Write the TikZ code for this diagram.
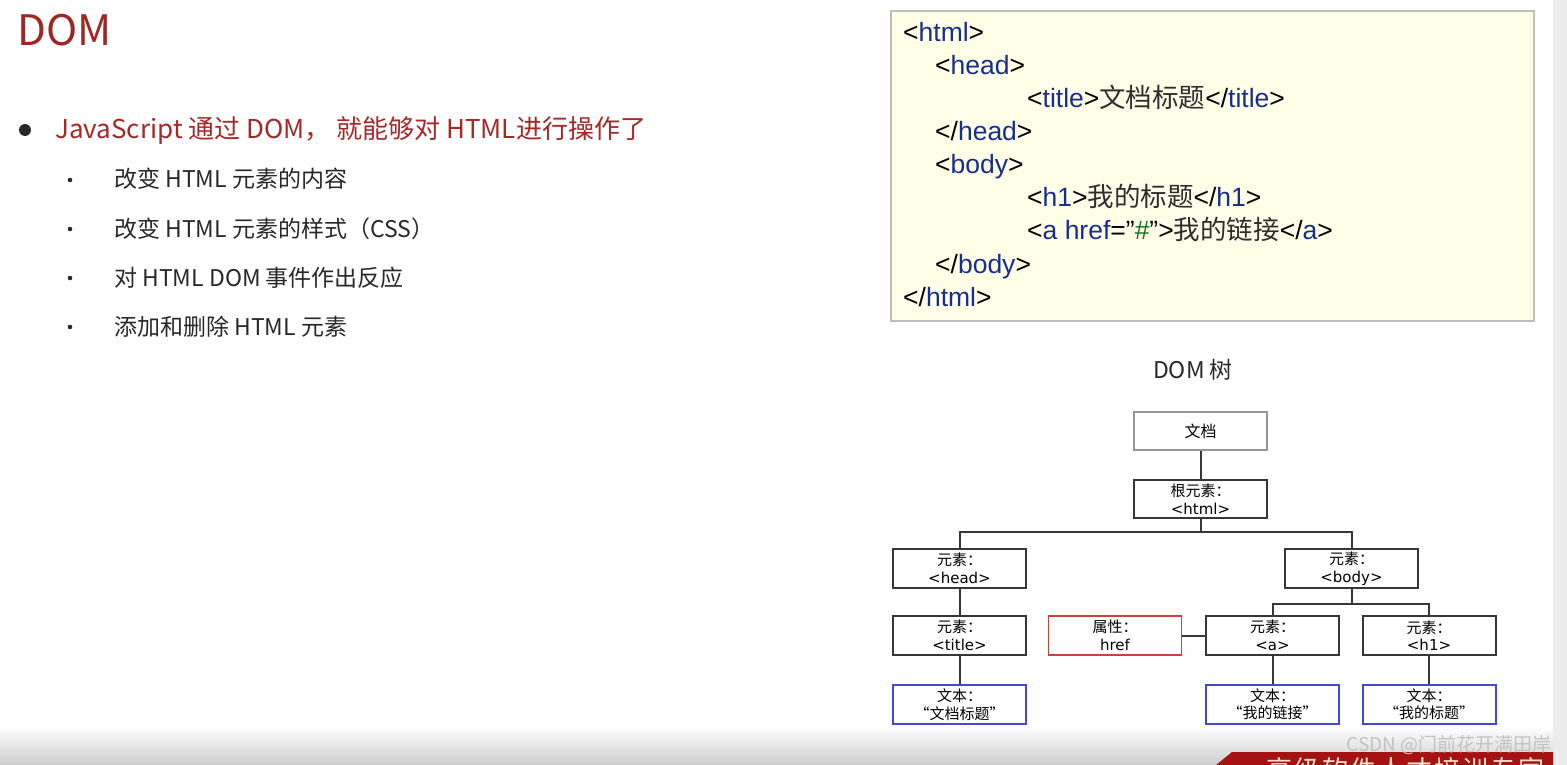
\documentclass[tikz,border=0pt]{standalone}
\usepackage{fontspec}
\setmainfont{Liberation Sans}
\newfontfamily\cjk{Noto Sans CJK SC}
\newfontfamily\dv{DejaVu Sans}
\usetikzlibrary{shadings}
\definecolor{titlered}{RGB}{160,38,38}
\definecolor{bulletred}{RGB}{168,40,40}
\definecolor{slidetext}{RGB}{40,40,40}
\definecolor{codefill}{RGB}{255,255,232}
\definecolor{codeborder}{RGB}{190,190,190}
\definecolor{tagblue}{RGB}{25,45,140}
\definecolor{codegreen}{RGB}{20,110,30}
\definecolor{codetext}{RGB}{45,45,45}
\definecolor{boxdark}{RGB}{55,55,55}
\definecolor{boxgray}{RGB}{150,150,150}
\definecolor{boxred}{RGB}{215,60,60}
\definecolor{boxblue}{RGB}{70,70,215}
\definecolor{stripgray}{RGB}{236,236,236}
\definecolor{bannerred}{RGB}{165,18,18}
\definecolor{bannertext}{RGB}{245,225,205}
\definecolor{wmgray}{RGB}{195,195,195}
\newcommand\tg[1]{\textcolor{tagblue}{#1}}
\newcommand\fsz[1]{\fontsize{#1}{#1}\selectfont}
\tikzset{
  slidetitle/.style={anchor=base west, inner sep=0pt, text=titlered, font=\cjk\fsz{42}},
  mainbullet/.style={anchor=base west, inner sep=0pt, text=bulletred, font=\cjk\fsz{26}},
  subbullet/.style={anchor=base west, inner sep=0pt, text=slidetext, font=\cjk\fsz{23}},
  codeline/.style={anchor=base west, inner sep=0pt, text=black, font=\fsz{26.5}},
  tbox/.style={draw=boxdark, line width=2pt, minimum width=133pt, minimum height=38pt,
    inner sep=0pt, align=center, text=black, font=\dv\fontsize{15}{17.5}\selectfont},
  conn/.style={draw=boxdark, line width=2pt},
}
\begin{document}
\begin{tikzpicture}[x=1pt,y=-1pt]
\useasboundingbox (0,0) rectangle (1567,765);
\fill[white] (0,0) rectangle (1567,765);
% bottom gradient and right strip
\shade[top color=white, bottom color={rgb,255:red,205;green,205;blue,205}] (0,727) rectangle (1567,765);
\fill[stripgray] (1553,0) rectangle (1567,765);

% left slide text
\node[slidetitle] (title) at (17,46) {DOM};
\fill[slidetext] (25,130) circle (6pt);
\node[mainbullet] (b0) at (55,139) {JavaScript 通过 DOM， 就能够对 HTML进行操作了};
\foreach \yy/\txt [count=\i] in {180/改变 HTML 元素的内容, 229/改变 HTML 元素的样式（CSS）, 278/对 HTML DOM 事件作出反应, 327/添加和删除 HTML 元素}{
  \fill[slidetext] (70,\yy) circle (2.3pt);
  \node[subbullet] (s\i) at (114,\yy+8) {\txt};
}

% code box
\draw[fill=codefill, draw=codeborder, line width=1.2pt] (891,11) rectangle (1534,321);
\node[codeline] (c1) at (903,42) {<\tg{html}>};
\node[codeline] (c2) at (935,75) {<\tg{head}>};
\node[codeline] (c3) at (1027,108) {<\tg{title}>\textcolor{codetext}{\cjk 文档标题}</\tg{title}>};
\node[codeline] (c4) at (935,141) {</\tg{head}>};
\node[codeline] (c5) at (935,174) {<\tg{body}>};
\node[codeline] (c6) at (1027,207) {<\tg{h1}>\textcolor{codetext}{\cjk 我的标题}</\tg{h1}>};
\node[codeline] (c7) at (1027,240) {<\tg{a href}="\textcolor{codegreen}{\#}">\textcolor{codetext}{\cjk 我的链接}</\tg{a}>};
\node[codeline] (c8) at (935,273) {</\tg{body}>};
\node[codeline] (c9) at (903,306) {</\tg{html}>};

% DOM tree
\node[anchor=base, inner sep=0pt, text=slidetext, font=\cjk\fsz{23}] (treetitle) at (1193,378) {DOM 树};

\node[tbox, draw=boxgray] (doc) at (1200.5,431) {\cjk\fsz{16}文档};
\node[tbox] (html) at (1200.5,499) {{\cjk 根元素：}\\<html>};
\node[tbox, minimum height=39pt] (head) at (959.5,568.5) {{\cjk 元素：}\\<head>};
\node[tbox, minimum height=39pt] (body) at (1351.5,568.5) {{\cjk 元素：}\\<body>};
\node[tbox, minimum height=39pt] (ttl) at (959.5,635.5) {{\cjk 元素：}\\<title>};
\node[tbox, minimum height=39pt, draw=boxred, line width=1.5pt] (attr) at (1115,635.5) {{\cjk 属性：}\\href};
\node[tbox, minimum height=39pt] (a) at (1272.5,635.5) {{\cjk 元素：}\\<a>};
\node[tbox, minimum height=39pt] (h1) at (1429,635.5) {{\cjk 元素：}\\<h1>};
\node[tbox, minimum height=39pt, draw=boxblue] (t1) at (959.5,704.5) {{\cjk 文本：}\\{\cjk “文档标题”}};
\node[tbox, minimum height=39pt, draw=boxblue] (t2) at (1272.5,704.5) {{\cjk 文本：}\\{\cjk “我的链接”}};
\node[tbox, minimum height=39pt, draw=boxblue] (t3) at (1429,704.5) {{\cjk 文本：}\\{\cjk “我的标题”}};

\coordinate (j1) at (1200.5,532);
\coordinate (j2) at (1351.5,604);
\draw[conn] (doc) -- (html);
\draw[conn] (html) -- (j1) -| (head);
\draw[conn] (j1) -| (body);
\draw[conn] (head) -- (ttl);
\draw[conn] (ttl) -- (t1);
\draw[conn] (body) -- (j2) -| (a);
\draw[conn] (j2) -| (h1);
\draw[conn] (attr) -- (a);
\draw[conn] (a) -- (t2);
\draw[conn] (h1) -- (t3);

% bottom banner and watermark
\begin{scope}
\path[clip] (1216,765) -- (1232,752) -- (1553,752) -- (1553,765) -- cycle;
\fill[bannerred] (1200,740) rectangle (1560,770);
\node[anchor=north west, inner sep=0pt, text=bannertext, font=\cjk\fsz{26}] (banner) at (1266,757)
  {高\hspace{2pt}级\hspace{2pt}软\hspace{2pt}件\hspace{2pt}人\hspace{2pt}才\hspace{2pt}培\hspace{2pt}训\hspace{2pt}专\hspace{2pt}家};
\end{scope}
\node[anchor=east, inner sep=0pt, text=wmgray, font=\cjk\fsz{19}] (wm) at (1552,745) {CSDN @门前花开满田岸};
\end{tikzpicture}
\end{document}
